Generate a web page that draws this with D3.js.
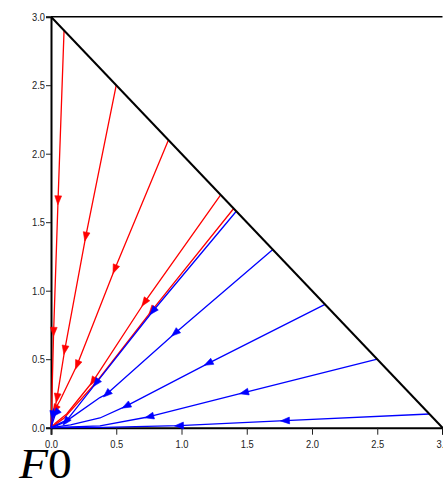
<!DOCTYPE html>
<html>
<head>
<meta charset="utf-8">
<script src="https://cdn.jsdelivr.net/npm/d3@7"></script>
<style>
  body { margin: 0; background: #fff; }
  svg { display: block; }
</style>
</head>
<body>
<svg id="chart" width="443" height="484"></svg>
<script>
// Axis ticks
const majorTicks = [0, 0.5, 1, 1.5, 2, 2.5, 3];
const minorTicks = [0.125, 0.25, 0.375, 0.625, 0.75, 0.875, 1.125, 1.25, 1.375,
                    1.625, 1.75, 1.875, 2.125, 2.25, 2.375, 2.625, 2.75, 2.875];

// Simplex boundary x + y = 3 and the top edge
const boundary = [[0, 3], [3, 0]];
const topEdge = [[0, 3], [3, 3]];

// Trajectories starting on the boundary, flowing to the origin
const redPaths = [
  [[0.1, 2.9], [0.054, 1.66], [0.02, 0.70], [0.008, 0.25], [0.003, 0.08], [0, 0]],
  [[0.5, 2.5], [0.266, 1.394], [0.105, 0.567], [0.046, 0.217], [0.015, 0.07], [0, 0]],
  [[0.9, 2.1], [0.488, 1.156], [0.2, 0.458], [0.07, 0.2], [0.031, 0.135], [0.01, 0.05], [0, 0]],
  [[1.3, 1.7], [0.716, 0.914], [0.32, 0.337], [0.12, 0.1], [0.03, 0.03], [0, 0]],
  [[1.4, 1.6], [0.772, 0.855], [0.345, 0.33], [0.1, 0.07], [0, 0]]
];
const redArrows = [
  [[0.054, 1.66], [0.02, 0.70]],
  [[0.266, 1.394], [0.105, 0.567], [0.046, 0.217]],
  [[0.488, 1.156], [0.2, 0.458], [0.031, 0.135]],
  [[0.716, 0.914], [0.32, 0.337]],
  [[0.772, 0.855]]
];

const bluePaths = [
  [[1.42, 1.58], [0.78, 0.85], [0.345, 0.326], [0.113, 0.044], [0.03, 0.01], [0, 0]],
  [[1.7, 1.3], [0.95, 0.69], [0.427, 0.246], [0.375, 0.22], [0.15, 0.07], [0, 0]],
  [[2.1, 0.9], [1.205, 0.47], [0.575, 0.158], [0.375, 0.071], [0.15, 0.02], [0, 0]],
  [[2.5, 0.5], [1.479, 0.2555], [0.753, 0.08], [0.375, 0.013], [0, 0]],
  [[2.9, 0.1], [1.793, 0.051], [0.981, 0.0146], [0.4, 0.003], [0, 0]],
  [[0.02, 0.14], [0.012, 0.08], [0, 0]],
  [[0.06, 0.13], [0.036, 0.105], [0.01, 0.03], [0, 0]]
];
const blueArrows = [
  [[0.78, 0.85], [0.345, 0.326], [0.113, 0.044]],
  [[0.95, 0.69], [0.427, 0.246]],
  [[1.205, 0.47], [0.575, 0.158]],
  [[1.479, 0.2555], [0.753, 0.08]],
  [[1.793, 0.051], [0.981, 0.0146]],
  [[0.013, 0.09]],
  [[0.036, 0.105]]
];

const svg = d3.select("#chart");
const x = d3.scaleLinear().domain([0, 3]).range([51, 442.5]);
const y = d3.scaleLinear().domain([0, 3]).range([427.7, 16.7]);

const line = d3.line().x(d => x(d[0])).y(d => y(d[1]));

// Axes
const fmt = d3.format(".1f");
const gx = svg.append("g").attr("transform", `translate(0,${y(0)})`);
gx.call(d3.axisBottom(x).tickValues(minorTicks).tickSize(5).tickFormat(""));
gx.call(d3.axisBottom(x).tickValues(majorTicks).tickSize(7).tickFormat(fmt));
const gy = svg.append("g").attr("transform", `translate(${x(0)},0)`);
gy.call(d3.axisLeft(y).tickValues(minorTicks).tickSize(3.5).tickFormat(""));
gy.call(d3.axisLeft(y).tickValues(majorTicks).tickSize(5).tickFormat(fmt));

svg.selectAll(".domain").attr("stroke", "#000").attr("stroke-width", 2);
svg.selectAll(".tick line").attr("stroke", "#222").attr("stroke-width", 1);
gx.selectAll(".tick text")
  .attr("font-family", "Liberation Sans, Arial, sans-serif")
  .attr("font-size", 11).attr("fill", "#222")
  .attr("y", 13)
  .attr("transform", "scale(0.85,1)");
gy.selectAll(".tick text")
  .attr("font-family", "Liberation Sans, Arial, sans-serif")
  .attr("font-size", 11).attr("fill", "#222")
  .attr("x", -7)
  .attr("transform", "scale(0.85,1)");

// Arrowhead oriented along the nearest path segment
function arrowHead(path, p) {
  const P = path.map(d => [x(d[0]), y(d[1])]);
  const q = [x(p[0]), y(p[1])];
  let best = 0, bestD = Infinity;
  for (let i = 0; i < P.length - 1; i++) {
    const [ax, ay] = P[i], [bx, by] = P[i + 1];
    const vx = bx - ax, vy = by - ay;
    const len2 = vx * vx + vy * vy || 1;
    let t = ((q[0] - ax) * vx + (q[1] - ay) * vy) / len2;
    t = Math.max(0, Math.min(1, t));
    const dx = ax + t * vx - q[0], dy = ay + t * vy - q[1];
    const dd = dx * dx + dy * dy;
    if (dd < bestD) { bestD = dd; best = i; }
  }
  let ux = P[best + 1][0] - P[best][0], uy = P[best + 1][1] - P[best][1];
  const n = Math.hypot(ux, uy) || 1;
  ux /= n; uy /= n;
  const L = 4.5, W = 3.4;
  const tip = [q[0] + ux * L, q[1] + uy * L];
  const b1 = [q[0] - ux * L - uy * W, q[1] - uy * L + ux * W];
  const b2 = [q[0] - ux * L + uy * W, q[1] - uy * L - ux * W];
  return [tip, b1, b2].map(d => d.join(",")).join(" ");
}

function drawFamily(paths, arrows, color, cls) {
  const g = svg.append("g").attr("class", cls);
  g.selectAll("path").data(paths).join("path")
    .attr("d", line)
    .attr("fill", "none")
    .attr("stroke", color)
    .attr("stroke-width", 1.3)
    .attr("stroke-linejoin", "round");
  paths.forEach((p, i) => {
    g.selectAll(null).data(arrows[i]).join("polygon")
      .attr("points", a => arrowHead(p, a))
      .attr("fill", color)
      .attr("stroke", color)
      .attr("stroke-width", 0.6);
  });
}

drawFamily(redPaths, redArrows, "#ff0000", "red-trajectories");
drawFamily(bluePaths, blueArrows, "#0000ff", "blue-trajectories");

// Boundary of the region
svg.append("path").datum(boundary).attr("d", line)
  .attr("fill", "none").attr("stroke", "#000").attr("stroke-width", 2);
svg.append("path").datum(topEdge).attr("d", line)
  .attr("fill", "none").attr("stroke", "#000").attr("stroke-width", 1.6);

// Caption
const cap = svg.append("text")
  .attr("transform", "translate(19,478) scale(1.13,1)")
  .attr("font-family", "Liberation Serif, Times New Roman, serif")
  .attr("font-size", 42).attr("fill", "#000");
cap.append("tspan").attr("font-style", "italic").text("F");
cap.append("tspan").text("0");
</script>
</body>
</html>
